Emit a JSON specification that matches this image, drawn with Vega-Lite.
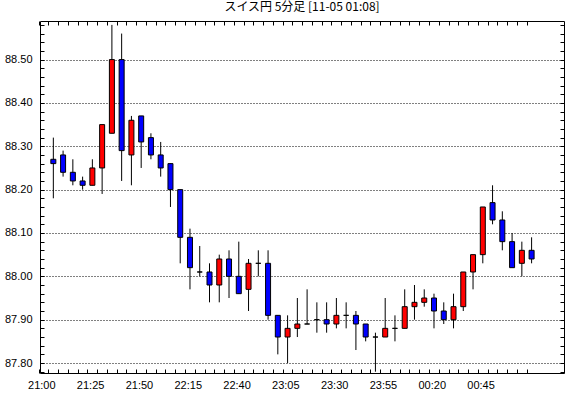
{
  "$schema": "https://vega.github.io/schema/vega-lite/v6.json",
  "width": 524,
  "height": 352,
  "autosize": "none",
  "padding": {"left": 40, "top": 21, "right": 6, "bottom": 25},
  "background": "white",
  "title": {"text": "スイス円 5分足 [11-05 01:08]", "font": "Noto Sans CJK JP", "fontSize": 12, "fontWeight": "normal", "color": "black", "anchor": "middle", "offset": 5},
  "config": {
    "view": {"stroke": "black", "strokeWidth": 1},
    "axis": {"labelFont": "Liberation Sans", "labelFontSize": 11, "labelColor": "black", "tickColor": "black", "tickWidth": 1, "domain": false, "title": null, "labelOverlap": false, "labelBound": false, "labelFlush": false}
  },
  "data": {"values": [
    {"t": "2024-11-04T21:00", "o": 88.27, "h": 88.32, "l": 88.18, "c": 88.26},
    {"t": "2024-11-04T21:05", "o": 88.28, "h": 88.29, "l": 88.23, "c": 88.24},
    {"t": "2024-11-04T21:10", "o": 88.24, "h": 88.27, "l": 88.21, "c": 88.22},
    {"t": "2024-11-04T21:15", "o": 88.22, "h": 88.23, "l": 88.20, "c": 88.21},
    {"t": "2024-11-04T21:20", "o": 88.21, "h": 88.27, "l": 88.21, "c": 88.25},
    {"t": "2024-11-04T21:25", "o": 88.25, "h": 88.35, "l": 88.19, "c": 88.35},
    {"t": "2024-11-04T21:30", "o": 88.33, "h": 88.58, "l": 88.33, "c": 88.50},
    {"t": "2024-11-04T21:35", "o": 88.50, "h": 88.56, "l": 88.22, "c": 88.29},
    {"t": "2024-11-04T21:40", "o": 88.28, "h": 88.37, "l": 88.21, "c": 88.36},
    {"t": "2024-11-04T21:45", "o": 88.37, "h": 88.37, "l": 88.25, "c": 88.31},
    {"t": "2024-11-04T21:50", "o": 88.32, "h": 88.33, "l": 88.27, "c": 88.28},
    {"t": "2024-11-04T21:55", "o": 88.28, "h": 88.31, "l": 88.23, "c": 88.25},
    {"t": "2024-11-04T22:00", "o": 88.26, "h": 88.26, "l": 88.16, "c": 88.20},
    {"t": "2024-11-04T22:05", "o": 88.20, "h": 88.20, "l": 88.03, "c": 88.09},
    {"t": "2024-11-04T22:10", "o": 88.09, "h": 88.11, "l": 87.97, "c": 88.02},
    {"t": "2024-11-04T22:15", "o": 88.01, "h": 88.07, "l": 88.00, "c": 88.01},
    {"t": "2024-11-04T22:20", "o": 88.01, "h": 88.03, "l": 87.94, "c": 87.98},
    {"t": "2024-11-04T22:25", "o": 87.98, "h": 88.05, "l": 87.94, "c": 88.04},
    {"t": "2024-11-04T22:30", "o": 88.04, "h": 88.06, "l": 87.95, "c": 88.00},
    {"t": "2024-11-04T22:35", "o": 88.00, "h": 88.08, "l": 87.96, "c": 87.96},
    {"t": "2024-11-04T22:40", "o": 87.97, "h": 88.04, "l": 87.92, "c": 88.03},
    {"t": "2024-11-04T22:45", "o": 88.03, "h": 88.06, "l": 88.00, "c": 88.03},
    {"t": "2024-11-04T22:50", "o": 88.03, "h": 88.06, "l": 87.90, "c": 87.91},
    {"t": "2024-11-04T22:55", "o": 87.91, "h": 87.91, "l": 87.82, "c": 87.86},
    {"t": "2024-11-04T23:00", "o": 87.86, "h": 87.91, "l": 87.80, "c": 87.88},
    {"t": "2024-11-04T23:05", "o": 87.88, "h": 87.95, "l": 87.86, "c": 87.89},
    {"t": "2024-11-04T23:10", "o": 87.89, "h": 87.97, "l": 87.89, "c": 87.89},
    {"t": "2024-11-04T23:15", "o": 87.90, "h": 87.94, "l": 87.87, "c": 87.90},
    {"t": "2024-11-04T23:20", "o": 87.90, "h": 87.94, "l": 87.87, "c": 87.89},
    {"t": "2024-11-04T23:25", "o": 87.89, "h": 87.95, "l": 87.88, "c": 87.91},
    {"t": "2024-11-04T23:30", "o": 87.91, "h": 87.94, "l": 87.88, "c": 87.91},
    {"t": "2024-11-04T23:35", "o": 87.91, "h": 87.92, "l": 87.83, "c": 87.89},
    {"t": "2024-11-04T23:40", "o": 87.89, "h": 87.89, "l": 87.85, "c": 87.86},
    {"t": "2024-11-04T23:45", "o": 87.86, "h": 87.87, "l": 87.78, "c": 87.86},
    {"t": "2024-11-04T23:50", "o": 87.86, "h": 87.95, "l": 87.86, "c": 87.88},
    {"t": "2024-11-04T23:55", "o": 87.88, "h": 87.91, "l": 87.85, "c": 87.88},
    {"t": "2024-11-05T00:00", "o": 87.88, "h": 87.97, "l": 87.88, "c": 87.93},
    {"t": "2024-11-05T00:05", "o": 87.93, "h": 87.98, "l": 87.90, "c": 87.94},
    {"t": "2024-11-05T00:10", "o": 87.94, "h": 87.97, "l": 87.93, "c": 87.95},
    {"t": "2024-11-05T00:15", "o": 87.95, "h": 87.96, "l": 87.88, "c": 87.92},
    {"t": "2024-11-05T00:20", "o": 87.92, "h": 87.94, "l": 87.89, "c": 87.90},
    {"t": "2024-11-05T00:25", "o": 87.90, "h": 87.96, "l": 87.88, "c": 87.93},
    {"t": "2024-11-05T00:30", "o": 87.93, "h": 88.01, "l": 87.92, "c": 88.01},
    {"t": "2024-11-05T00:35", "o": 88.01, "h": 88.05, "l": 87.97, "c": 88.05},
    {"t": "2024-11-05T00:40", "o": 88.05, "h": 88.16, "l": 88.03, "c": 88.16},
    {"t": "2024-11-05T00:45", "o": 88.17, "h": 88.21, "l": 88.12, "c": 88.13},
    {"t": "2024-11-05T00:50", "o": 88.13, "h": 88.15, "l": 88.06, "c": 88.08},
    {"t": "2024-11-05T00:55", "o": 88.08, "h": 88.10, "l": 88.02, "c": 88.02},
    {"t": "2024-11-05T01:00", "o": 88.03, "h": 88.08, "l": 88.00, "c": 88.06},
    {"t": "2024-11-05T01:05", "o": 88.06, "h": 88.09, "l": 88.03, "c": 88.04}
  ]},
  "layer": [
    {
      "mark": {"type": "rule", "color": "black", "strokeWidth": 1},
      "encoding": {
        "x": {"field": "t", "type": "temporal",
          "scale": {"domain": [{"year": 2024, "month": 11, "date": 4, "hours": 20, "minutes": 55, "seconds": 44}, {"year": 2024, "month": 11, "date": 5, "hours": 1, "minutes": 19, "seconds": 2}], "nice": false},
          "axis": {"orient": "top", "labels": false, "grid": false, "tickSize": -4, "tickCount": 52, "tickOffset": -5,
            "tickOpacity": {"condition": {"test": "hours(datum.value) == 1 && minutes(datum.value) > 5", "value": 0}, "value": 1}}},
        "y": {"field": "l", "type": "quantitative",
          "scale": {"domain": [87.777, 88.589], "nice": false, "zero": false},
          "axis": {"orient": "right", "labels": false, "grid": false, "tickSize": -4, "tickCount": 41}},
        "y2": {"field": "h"}
      }
    },
    {
      "mark": {"type": "bar", "width": 5, "stroke": "black", "strokeWidth": 1},
      "encoding": {
        "x": {"field": "t", "type": "temporal",
          "axis": {"orient": "bottom", "grid": false, "tickSize": -4, "labelPadding": 10, "labelOffset": -7, "tickCount": 52, "tickOffset": -5,
            "tickOpacity": {"condition": {"test": "hours(datum.value) == 1 && minutes(datum.value) > 5", "value": 0}, "value": 1},
            "labelExpr": "(hours(datum.value) == 1 && minutes(datum.value) > 5) ? '' : ((hours(datum.value) < 12 ? 1440 : 0) + hours(datum.value) * 60 + minutes(datum.value) + 15) % 25 == 0 ? timeFormat(datum.value, '%H:%M') : ''"}},
        "y": {"field": "o", "type": "quantitative",
          "axis": {"orient": "left", "tickSize": -4, "labelPadding": 12, "tickCount": 41, "grid": true, "gridColor": "black", "gridDash": [1, 2], "gridWidth": 1,
            "gridOpacity": {"condition": {"test": "abs(datum.value*10 - round(datum.value*10)) < 0.001", "value": 1}, "value": 0},
            "labelExpr": "abs(datum.value*10 - round(datum.value*10)) < 0.001 ? format(datum.value, '.2f') : ''"}},
        "y2": {"field": "c"},
        "color": {"condition": {"test": "datum.c >= datum.o", "value": "#ff0000"}, "value": "#0000ff"}
      }
    }
  ],
  "resolve": {"axis": {"x": "independent", "y": "independent"}}
}
